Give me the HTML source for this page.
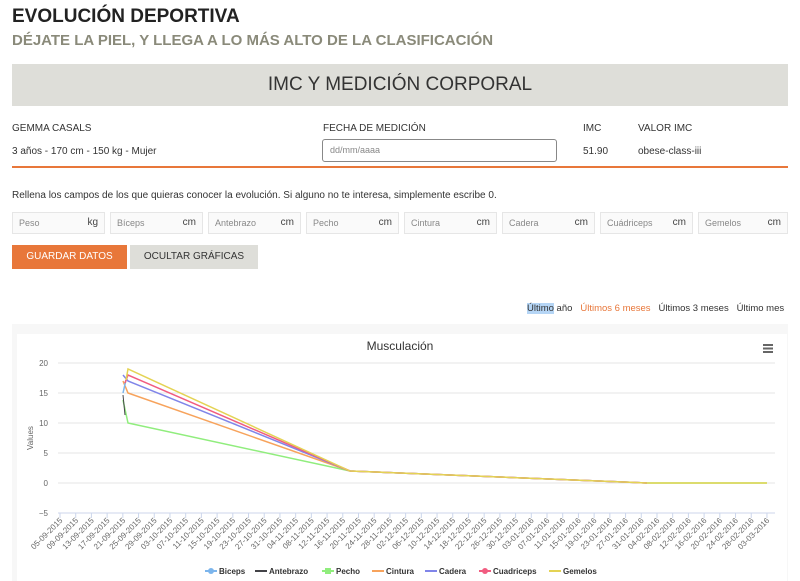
<!DOCTYPE html>
<html><head><meta charset="utf-8"><style>
*{box-sizing:border-box;margin:0;padding:0}
body{width:800px;height:581px;background:#fff;font-family:"Liberation Sans",sans-serif;color:#222;position:relative;overflow:hidden}
.abs{position:absolute}
h1{position:absolute;left:12px;top:6px;font-size:19px;font-weight:bold;color:#222}
h2{position:absolute;left:12px;top:32px;font-size:15px;font-weight:bold;color:#8a8a7a}
.band{position:absolute;left:12px;top:64px;width:776px;height:42px;background:#deded9;text-align:center;font-size:19px;line-height:42px;color:#333}
.s{font-size:10px;color:#333}
.inp{position:absolute;top:212px;height:22px;border:1px solid #e6e6e6;background:#fafafa;font-size:9px;color:#888;line-height:20px;padding:0 6px}
.inp b{position:absolute;right:6px;font-weight:normal;color:#444;font-size:10px}
</style></head><body>
<h1>EVOLUCIÓN DEPORTIVA</h1>
<h2>DÉJATE LA PIEL, Y LLEGA A LO MÁS ALTO DE LA CLASIFICACIÓN</h2>
<div class="band">IMC Y MEDICIÓN CORPORAL</div>
<div class="abs s" style="left:12px;top:123px">GEMMA CASALS</div>
<div class="abs s" style="left:12px;top:146px">3 años - 170 cm - 150 kg - Mujer</div>
<div class="abs s" style="left:323px;top:123px">FECHA DE MEDICIÓN</div>
<div class="abs" style="left:322px;top:139px;width:235px;height:23px;border:1px solid #888;border-radius:3px;font-size:9px;color:#888;padding:5px 7px">dd/mm/aaaa</div>
<div class="abs s" style="left:583px;top:123px">IMC</div>
<div class="abs s" style="left:583px;top:146px">51.90</div>
<div class="abs s" style="left:638px;top:123px">VALOR IMC</div>
<div class="abs s" style="left:638px;top:146px">obese-class-iii</div>
<div class="abs" style="left:12px;top:166px;width:776px;height:2px;background:#e8773a"></div>
<div class="abs s" style="left:12px;top:190px">Rellena los campos de los que quieras conocer la evolución. Si alguno no te interesa, simplemente escribe 0.</div>
<div class="inp" style="left:12px;width:93px">Peso<b>kg</b></div>
<div class="inp" style="left:110px;width:93px">Bíceps<b>cm</b></div>
<div class="inp" style="left:208px;width:93px">Antebrazo<b>cm</b></div>
<div class="inp" style="left:306px;width:93px">Pecho<b>cm</b></div>
<div class="inp" style="left:404px;width:93px">Cintura<b>cm</b></div>
<div class="inp" style="left:502px;width:93px">Cadera<b>cm</b></div>
<div class="inp" style="left:600px;width:93px">Cuádriceps<b>cm</b></div>
<div class="inp" style="left:698px;width:90px">Gemelos<b>cm</b></div>
<div class="abs" style="left:12px;top:245px;width:115px;height:24px;background:#e8773a;color:#fff;font-size:10px;text-align:center;line-height:24px">GUARDAR DATOS</div>
<div class="abs" style="left:130px;top:245px;width:128px;height:24px;background:#deded9;color:#333;font-size:10px;text-align:center;line-height:24px">OCULTAR GRÁFICAS</div>
<div class="abs" style="left:527px;top:303px;font-size:9.5px;color:#333;white-space:nowrap"><span style="background:#b5d5f5">Último</span> año&nbsp;&nbsp; <span style="color:#e8773a">Últimos 6 meses</span>&nbsp;&nbsp; Últimos 3 meses&nbsp;&nbsp; Último mes</div>
<div class="abs" style="left:12px;top:324px;width:776px;height:257px;background:#f7f7f7"></div>
<svg class="abs" style="left:0;top:0" width="800" height="581" font-family="Liberation Sans, sans-serif">
<rect x="17" y="334" width="770" height="247" fill="#fff"/>
<text x="400" y="350" font-size="12" text-anchor="middle" fill="#333">Musculación</text>
<g stroke="#666" stroke-width="2"><line x1="763" y1="345" x2="773" y2="345"/><line x1="763" y1="348.5" x2="773" y2="348.5"/><line x1="763" y1="352" x2="773" y2="352"/></g>
<g stroke="#e6e6e6"><line x1="58" y1="363" x2="775" y2="363"/><line x1="58" y1="393" x2="775" y2="393"/><line x1="58" y1="423" x2="775" y2="423"/><line x1="58" y1="453" x2="775" y2="453"/><line x1="58" y1="483" x2="775" y2="483"/></g>
<line x1="58" y1="513" x2="775" y2="513" stroke="#ccd6eb"/>
<g font-size="8" fill="#666" text-anchor="end"><text x="48" y="366">20</text><text x="48" y="396">15</text><text x="48" y="426">10</text><text x="48" y="456">5</text><text x="48" y="486">0</text><text x="48" y="516">−5</text></g>
<text transform="translate(33,438) rotate(-90)" font-size="8" fill="#666" text-anchor="middle">Values</text>
<g id="ticks" font-size="8" fill="#666"></g>
<g fill="none" stroke-width="1.5">
<polyline stroke="#90ed7d" points="123,400 128,423 350,471 647,483 767,483"/>
<polyline stroke="#434348" stroke-width="1" points="123,395 125,415"/>
<polyline stroke="#f7a35c" points="123,381 128,393 350,471 647,483"/>
<polyline stroke="#7cb5ec" points="123,393 126,380"/>
<polyline stroke="#8085e9" points="123,375 128,381 350,471 647,483"/>
<polyline stroke="#f15c80" points="125,383 128,375 350,471 647,483"/>
<polyline stroke="#e4d354" points="126,380 128,369 350,471 647,483 767,483"/>
</g>
<g font-size="8" font-weight="bold" fill="#333">
<line x1="205" y1="571" x2="217" y2="571" stroke="#7cb5ec" stroke-width="2"/><circle cx="211" cy="571" r="3" fill="#7cb5ec"/><text x="219" y="574">Biceps</text>
<line x1="255" y1="571" x2="267" y2="571" stroke="#434348" stroke-width="2"/><text x="269" y="574">Antebrazo</text>
<line x1="322" y1="571" x2="334" y2="571" stroke="#90ed7d" stroke-width="2"/><rect x="325" y="568" width="6" height="6" fill="#90ed7d"/><text x="336" y="574">Pecho</text>
<line x1="372" y1="571" x2="384" y2="571" stroke="#f7a35c" stroke-width="2"/><text x="386" y="574">Cintura</text>
<line x1="425" y1="571" x2="437" y2="571" stroke="#8085e9" stroke-width="2"/><text x="439" y="574">Cadera</text>
<line x1="479" y1="571" x2="491" y2="571" stroke="#f15c80" stroke-width="2"/><circle cx="485" cy="571" r="3" fill="#f15c80"/><text x="493" y="574">Cuadriceps</text>
<line x1="549" y1="571" x2="561" y2="571" stroke="#e4d354" stroke-width="2"/><text x="563" y="574">Gemelos</text>
</g>
</svg>
<script>
var g=document.getElementById('ticks'),ns='http://www.w3.org/2000/svg';
var d=new Date(2015,8,5);
for(var i=0;i<46;i++){var x=60+i*15.71;
var l=document.createElementNS(ns,'line');l.setAttribute('x1',x);l.setAttribute('x2',x);l.setAttribute('y1',513);l.setAttribute('y2',518);l.setAttribute('stroke','#ccd6eb');g.appendChild(l);
var t=document.createElementNS(ns,'text');var s=('0'+d.getDate()).slice(-2)+'-'+('0'+(d.getMonth()+1)).slice(-2)+'-'+d.getFullYear();
t.textContent=s;t.setAttribute('text-anchor','end');t.setAttribute('transform','translate('+(x+3)+',521) rotate(-45)');g.appendChild(t);
d.setDate(d.getDate()+4);}
</script>
</body></html>
